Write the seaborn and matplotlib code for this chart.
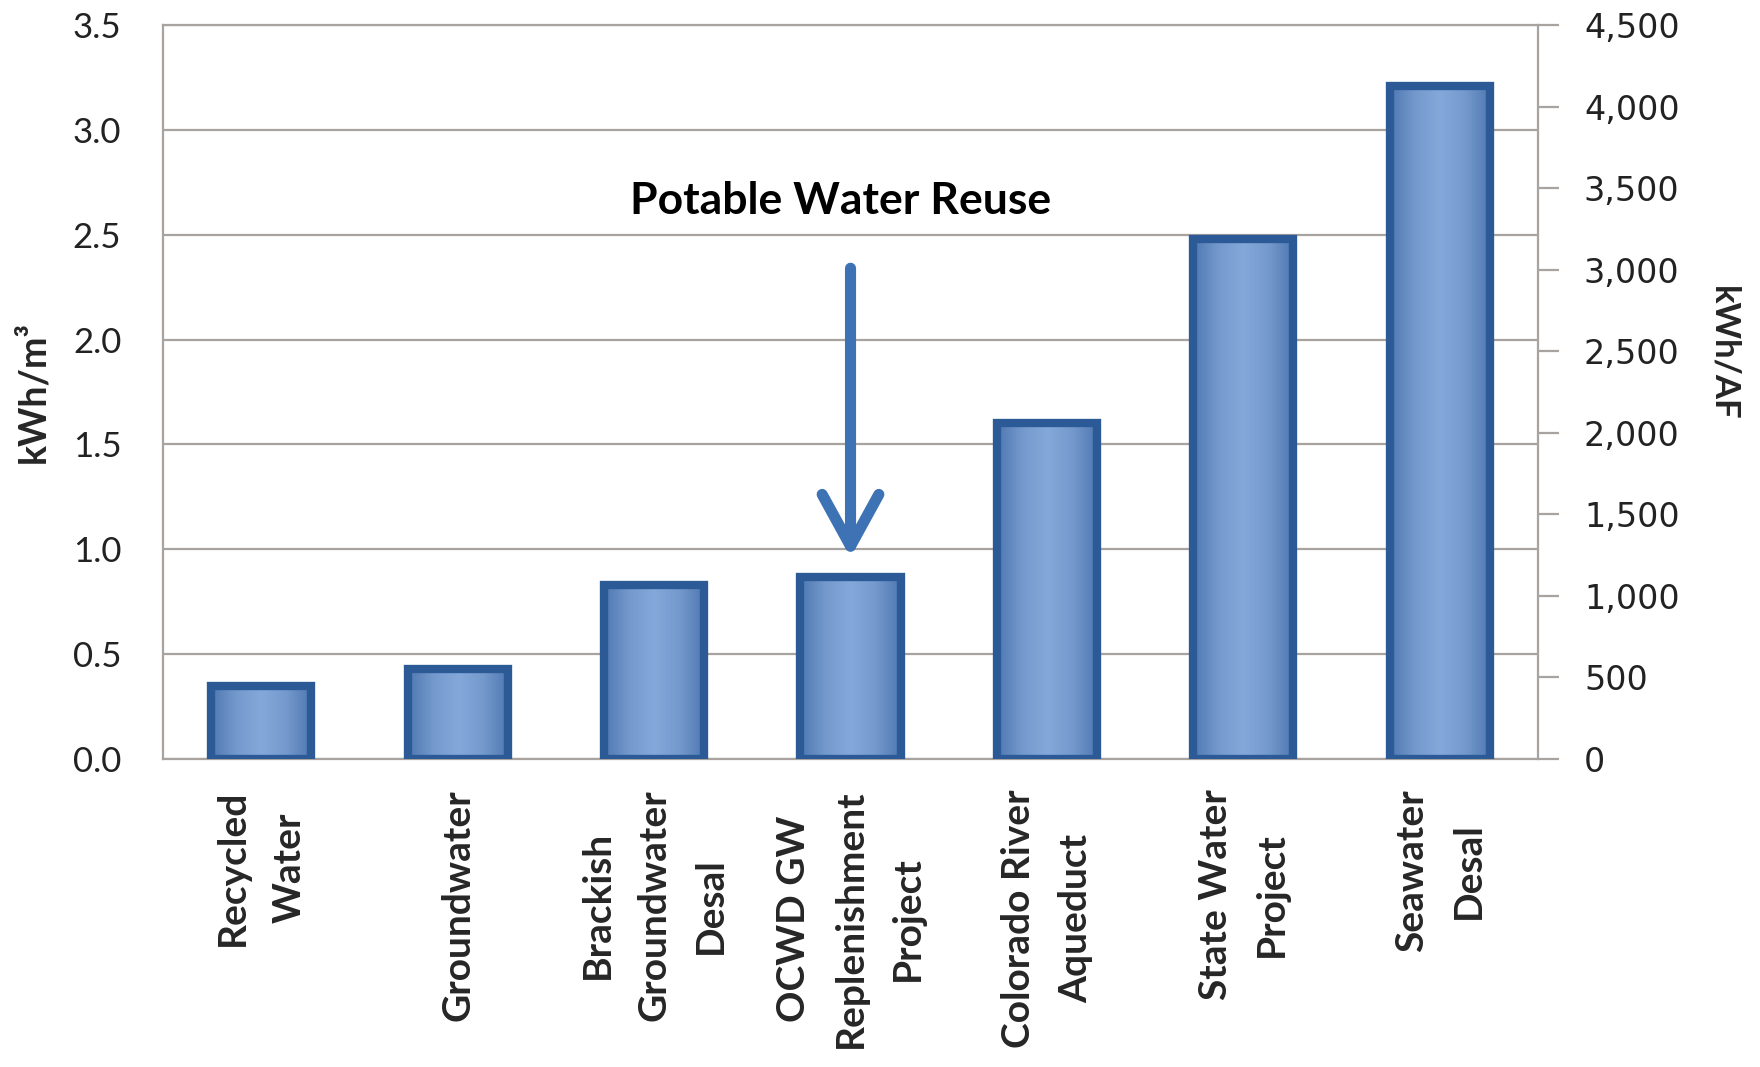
import matplotlib
matplotlib.use("Agg")
import matplotlib.pyplot as plt
import seaborn as sns
import pandas as pd
import numpy as np
from matplotlib.colors import LinearSegmentedColormap
from matplotlib.ticker import FuncFormatter, MultipleLocator

# ---- data ----
categories = [
    "Recycled\nWater",
    "Groundwater",
    "Brackish\nGroundwater\nDesal",
    "OCWD GW\nReplenishment\nProject",
    "Colorado River\nAqueduct",
    "State Water\nProject",
    "Seawater\nDesal",
]
kwh_per_m3 = [0.35, 0.43, 0.83, 0.87, 1.60, 2.48, 3.21]
right_ticks = [0, 500, 1000, 1500, 2000, 2500, 3000, 3500, 4000, 4500]
annotation_text = "Potable Water Reuse"

df = pd.DataFrame({"source": categories, "energy": kwh_per_m3})

sns.set_theme(style="white")
plt.rcParams["font.family"] = ["Lato", "DejaVu Sans"]

fig = plt.figure(figsize=(17.6, 10.67), dpi=100)
ax = fig.add_axes([0.0926, 0.2887, 0.7813, 0.6879])

grid_col = "#a9a3a0"
sns.barplot(data=df, x="source", y="energy", ax=ax, color="#7096c9",
            width=0.51, edgecolor="#2b5a96", linewidth=6, saturation=1)

ax.set_xlim(-0.5, len(categories) - 0.5)
ax.set_ylim(0, 3.5)

# gradient shading inside the bars (decoration clipped to each seaborn bar)
cmap = LinearSegmentedColormap.from_list(
    "barshade", ["#4f78b2", "#7499cc", "#85a8da", "#7499cc", "#4f78b2"])
grad = np.linspace(0, 1, 256).reshape(1, -1)
for p in list(ax.patches):
    x0, y0 = p.get_x(), p.get_y()
    w, h = p.get_width(), p.get_height()
    im = ax.imshow(grad, extent=[x0, x0 + w, y0, y0 + h], aspect="auto",
                   cmap=cmap, zorder=2.4, interpolation="bicubic")
    im.set_clip_path(p)
    p.set_facecolor("none")
    p.set_zorder(2.6)
ax.set_xlim(-0.5, len(categories) - 0.5)
ax.set_ylim(0, 3.5)
ax.set_aspect("auto")

ax.yaxis.set_major_locator(MultipleLocator(0.5))
ax.yaxis.set_major_formatter(FuncFormatter(lambda v, p: f"{v:.1f}"))
ax.grid(axis="y", color=grid_col, linewidth=1.6)
ax.set_axisbelow(True)
for side in ["left", "bottom", "top"]:
    ax.spines[side].set_visible(True)
    ax.spines[side].set_color(grid_col)
    ax.spines[side].set_linewidth(1.6)
ax.spines["right"].set_visible(False)

ax.tick_params(axis="y", length=0, pad=30, labelsize=25, labelcolor="#222222")
ax.tick_params(axis="x", length=0, pad=22)
ax.set_xticks(range(len(categories)))
ax.set_xticklabels(categories, rotation=90, ha="center", va="top",
                   multialignment="center", fontsize=28, fontweight="bold",
                   linespacing=1.75)
ax.set_xlabel("")
ax.set_ylabel("kWh/m³", fontsize=27, fontweight="bold", labelpad=16)

# secondary axis
ax2 = ax.twinx()
ax2.set_ylim(0, 4500)
ax2.set_yticks(right_ticks)
ax2.yaxis.set_major_formatter(FuncFormatter(lambda v, p: f"{int(v):,}"))
ax2.tick_params(axis="y", length=15, width=1.6, color=grid_col, pad=18,
                labelsize=24, labelcolor="#222222")
for lab in ax2.get_yticklabels():
    lab.set_fontfamily("DejaVu Sans")
for side in ["left", "bottom", "top"]:
    ax2.spines[side].set_visible(False)
ax2.spines["right"].set_visible(True)
ax2.spines["right"].set_color(grid_col)
ax2.spines["right"].set_linewidth(1.6)
ax2.grid(False)
ax2.set_ylabel("kWh/AF", fontsize=25, fontweight="bold", rotation=270,
               va="center", ha="center")
ax2.yaxis.set_label_coords(1.135, 0.553)

# annotation
ax.text(2.95, 2.66, annotation_text, ha="center", va="center",
        fontsize=32, fontweight="bold", color="black")
ax.annotate("", xy=(3.0, 0.96), xytext=(3.0, 2.34),
            arrowprops=dict(arrowstyle="->,head_length=3.1,head_width=1.7",
                            color="#3d72b5", linewidth=8,
                            shrinkA=0, shrinkB=0))

fig.savefig("out.png", dpi=100, facecolor="white")
